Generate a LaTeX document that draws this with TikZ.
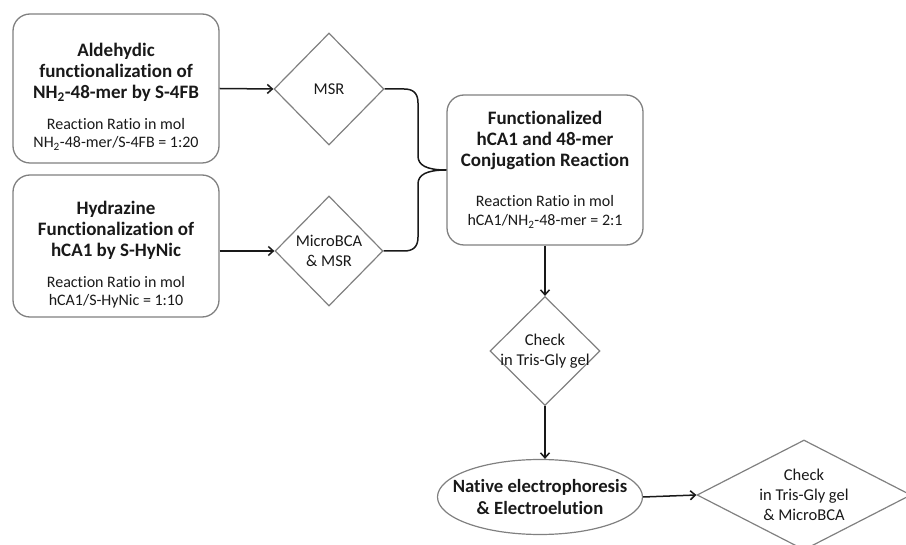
\documentclass[tikz,border=0pt]{standalone}
\usepackage{fontspec}
\setmainfont{Carlito}[Ligatures=NoCommon]
\usetikzlibrary{shapes.geometric,arrows.meta}

\definecolor{edgegray}{RGB}{128,128,128}
\definecolor{inkblack}{RGB}{25,25,25}

\tikzset{
  stepbox/.style={draw=edgegray, line width=1.3pt, rounded corners=17pt, align=center,
    inner sep=0pt, text=inkblack, font=\fontsize{16}{21}\selectfont},
  check/.style={diamond, draw=edgegray, line width=1.2pt, inner sep=-8pt, align=center,
    text=inkblack, font=\fontsize{16.5}{20}\selectfont},
  finish/.style={ellipse, draw=edgegray, line width=1.2pt, inner sep=-20pt, align=center,
    text=inkblack, font=\fontsize{18.7}{22}\selectfont\bfseries},
  link/.style={draw=inkblack, line width=1.5pt, -{Straight Barb[length=5pt,width=9pt]}},
  bracket/.style={draw=inkblack, line width=1.5pt}
}

\newcommand{\steptitle}[1]{{\fontsize{19}{21}\selectfont\bfseries #1}}
% pushes the text of a box a little below its middle
\newcommand{\boxlift}{\rule{0pt}{30pt}}

\begin{document}
\begin{tikzpicture}[x=1pt,y=-1pt]
    \useasboundingbox (0,0) rectangle (906,545);
    \clip (0,0) rectangle (906,545);

    % the two functionalization steps
    \node[stepbox, minimum width=206pt, minimum height=149pt] (ald) at (116,88.5)
        {\steptitle{\boxlift Aldehydic}\\ \steptitle{functionalization of}\\
         \steptitle{NH\textsubscript{2}-48-mer by S-4FB}\\[10pt]
         Reaction Ratio in mol\\[-3pt] NH\textsubscript{2}-48-mer/S-4FB = 1:20};
    \node[stepbox, minimum width=206pt, minimum height=142pt] (hyd) at (116,246)
        {\steptitle{\boxlift Hydrazine}\\ \steptitle{Functionalization of}\\
         \steptitle{hCA1 by S-HyNic}\\[10pt]
         Reaction Ratio in mol\\[-3pt] hCA1/S-HyNic = 1:10};

    % checks after each step
    \node[check, minimum width=110pt, minimum height=112pt] (msr) at (329,89) {MSR};
    \node[check, minimum width=108pt, minimum height=110pt] (bca) at (329,251) {MicroBCA\\ \& MSR};

    % conjugation
    \node[stepbox, minimum width=196pt, minimum height=150pt] (conj) at (545,170)
        {\steptitle{Functionalized}\\ \steptitle{hCA1 and 48-mer}\\
         \steptitle{Conjugation Reaction}\\[19pt]
         Reaction Ratio in mol\\[-2pt] hCA1/NH\textsubscript{2}-48-mer = 2:1};

    \node[check, minimum width=110pt, minimum height=109pt] (gel) at (545,351)
        {Check\\ in Tris-Gly gel};
    \node[finish, minimum width=205pt, minimum height=75pt] (elec) at (540,497)
        {Native electrophoresis\\ \& Electroelution};
    \node[check, minimum width=214pt, minimum height=110pt] (final) at (804,495)
        {Check\\ in Tris-Gly gel\\ \& MicroBCA};

    % arrows
    \draw[link] (ald.east) -- (msr.west);
    \draw[link] (hyd.east |- bca.west) -- (bca.west);
    \draw[link] (conj.south -| gel.north) -- (gel.north);
    \draw[link] (gel.south) -- (gel.south |- elec.north);
    \draw[link] (elec.east) -- (final.west);

    % brace joining both checks into the conjugation
    \draw[bracket] (msr.east) -- (404,89) .. controls (413,89) and (418,93) .. (418,103)
        -- (418,156) .. controls (418,165) and (426,170) .. (conj.west);
    \draw[bracket] (bca.east) -- (404,251) .. controls (413,251) and (418,247) .. (418,237)
        -- (418,184) .. controls (418,175) and (426,170) .. (conj.west);
\end{tikzpicture}
\end{document}
